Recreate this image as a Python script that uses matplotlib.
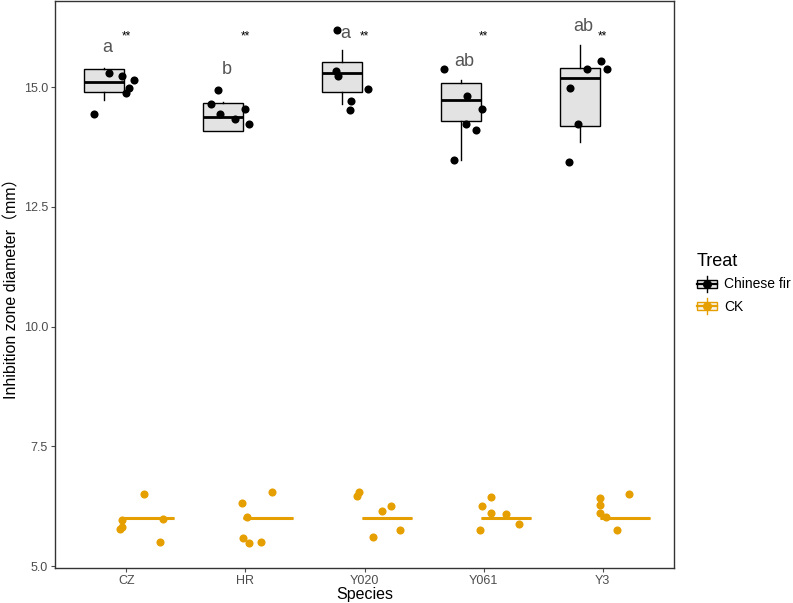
import matplotlib
matplotlib.use("Agg")
import matplotlib.pyplot as plt
from matplotlib.lines import Line2D
from matplotlib.patches import Rectangle
from matplotlib.legend_handler import HandlerBase

species = ["CZ", "HR", "Y020", "Y061", "Y3"]
treats = ["Chinese fir", "CK"]

# box stats (Chinese fir)
fir_q1 = [14.89, 14.09, 14.89, 14.30, 14.19]
fir_med = [15.10, 14.37, 15.30, 14.73, 15.19]
fir_q3 = [15.37, 14.67, 15.52, 15.09, 15.40]
fir_lo = [14.74, 14.09, 14.64, 13.49, 13.85]
fir_hi = [15.41, 14.70, 15.77, 15.15, 15.88]

# CK boxes collapse onto one value
ck_q1 = [6.0, 6.0, 6.0, 6.0, 6.0]
ck_med = [6.0, 6.0, 6.0, 6.0, 6.0]
ck_q3 = [6.0, 6.0, 6.0, 6.0, 6.0]

# jittered points (value, horizontal offset from the species tick)
fir_pts = [
    [15.30, 15.24, 15.14, 14.98, 14.87, 14.44],
    [14.95, 14.64, 14.54, 14.44, 14.34, 14.23],
    [16.19, 15.33, 15.23, 14.96, 14.71, 14.52],
    [15.38, 14.81, 14.55, 14.23, 14.10, 13.48],
    [15.54, 15.37, 15.39, 14.98, 14.23, 13.43],
]
fir_jit = [
    [-0.15, -0.04, 0.06, 0.02, 0.00, -0.27],
    [-0.23, -0.29, 0.00, -0.21, -0.09, 0.03],
    [-0.23, -0.24, -0.22, 0.03, -0.11, -0.12],
    [-0.33, -0.14, -0.01, -0.15, -0.06, -0.25],
    [-0.01, 0.04, -0.13, -0.27, -0.21, -0.28],
]
ck_pts = [
    [6.50, 5.96, 5.81, 5.77, 5.98, 5.50],
    [6.54, 6.32, 6.02, 5.59, 5.49, 5.51],
    [6.55, 6.46, 6.25, 6.16, 5.75, 5.61],
    [6.45, 6.25, 6.11, 6.08, 5.88, 5.76],
    [6.50, 6.42, 6.28, 6.11, 6.02, 5.75],
]
ck_jit = [
    [0.15, -0.04, -0.04, -0.05, 0.31, 0.28],
    [0.22, -0.03, 0.01, -0.02, 0.03, 0.13],
    [-0.05, -0.06, 0.22, 0.15, 0.30, 0.07],
    [0.06, -0.01, 0.06, 0.19, 0.30, -0.03],
    [0.22, -0.02, -0.02, -0.02, 0.03, 0.12],
]

# significance letters and stars
letters = ["a", "b", "a", "ab", "ab"]
letter_y = [15.82, 15.36, 16.12, 15.54, 16.27]
star_y = 16.05

fir_color = "black"
ck_color = "#E69F00"
fam = ["Liberation Sans", "Noto Sans CJK SC"]
plt.rcParams["font.family"] = fam

fig = plt.figure(figsize=(7.93, 6.03), dpi=100)
ax = fig.add_axes([55 / 793, 1 - 568 / 603, 619 / 793, 567 / 603])

x = list(range(1, len(species) + 1))

fir_stats = []
for i in range(len(species)):
    fir_stats.append(dict(q1=fir_q1[i], med=fir_med[i], q3=fir_q3[i],
                          whislo=fir_lo[i], whishi=fir_hi[i], fliers=[]))
ck_stats = []
for i in range(len(species)):
    ck_stats.append(dict(q1=ck_q1[i], med=ck_med[i], q3=ck_q3[i],
                         whislo=ck_q1[i], whishi=ck_q3[i], fliers=[]))

ax.bxp(fir_stats, positions=[p - 0.19 for p in x], widths=0.34,
       patch_artist=True, showcaps=False, showfliers=False,
       boxprops=dict(facecolor="#E3E3E3", edgecolor=fir_color, linewidth=1.0),
       medianprops=dict(color=fir_color, linewidth=2.0),
       whiskerprops=dict(color=fir_color, linewidth=1.0))
ax.bxp(ck_stats, positions=[p + 0.19 for p in x], widths=0.42,
       patch_artist=True, showcaps=False, showfliers=False,
       boxprops=dict(facecolor="#F2F2F2", edgecolor=ck_color, linewidth=1.0),
       medianprops=dict(color=ck_color, linewidth=2.2),
       whiskerprops=dict(color=ck_color, linewidth=1.0))

for i in range(len(species)):
    ax.scatter([x[i] + j for j in fir_jit[i]], fir_pts[i], s=34,
               color=fir_color, zorder=5, linewidths=0)
    ax.scatter([x[i] + j for j in ck_jit[i]], ck_pts[i], s=34,
               color=ck_color, zorder=5, linewidths=0)
    ax.text(x[i] - 0.16, letter_y[i], letters[i], ha="center", va="center",
            fontsize=13, color="#555555")
    ax.text(x[i], star_y, "**", ha="center", va="center", fontsize=8.5,
            color="black")

ax.set_xlim(0.4, 5.6)
ax.set_ylim(4.96, 16.8)
ax.set_xticks(x)
ax.set_xticklabels(species)
ax.set_yticks([5.0, 7.5, 10.0, 12.5, 15.0])
ax.set_yticklabels(["5.0", "7.5", "10.0", "12.5", "15.0"])
ax.tick_params(colors="#4D4D4D", labelsize=9, length=3, width=0.8, pad=2)
for s in ax.spines.values():
    s.set_color("#333333")
    s.set_linewidth(1.0)

ax.set_xlabel("Species", fontsize=11.5, labelpad=0)
ax.set_ylabel("Inhibition zone diameter（mm）", fontsize=11.5, labelpad=3)


class BoxKey(HandlerBase):
    def create_artists(self, legend, orig_handle, xdescent, ydescent,
                       width, height, fontsize, trans):
        c = orig_handle.get_color()
        cx = width / 2 - xdescent
        cy = height / 2 - ydescent
        bw = width * 0.95
        bh = height * 0.5
        whisk = Line2D([cx, cx], [cy - height * 0.5, cy + height * 0.5],
                       color=c, lw=1.0, transform=trans)
        box = Rectangle((cx - bw / 2, cy - bh / 2), bw, bh,
                        facecolor="#EBEBEB" if c == "black" else "#F7F3E8",
                        edgecolor=c, lw=1.0, transform=trans)
        med = Line2D([cx - bw / 2, cx + bw / 2], [cy, cy], color=c, lw=1.6,
                     transform=trans)
        dot = Line2D([cx], [cy], marker="o", markersize=5.5, color=c, lw=0,
                     transform=trans)
        return [whisk, box, med, dot]


handles = [Line2D([], [], color=fir_color), Line2D([], [], color=ck_color)]
leg = fig.legend(handles, treats, handler_map={Line2D: BoxKey()},
                 title="Treat", loc="upper left",
                 bbox_to_anchor=(684 / 793, 1 - 240 / 603), frameon=False,
                 fontsize=10, title_fontsize=13, handlelength=1.5,
                 handleheight=1.4, handletextpad=0.5, labelspacing=0.45,
                 alignment="left")

fig.savefig("out.png", dpi=100)
